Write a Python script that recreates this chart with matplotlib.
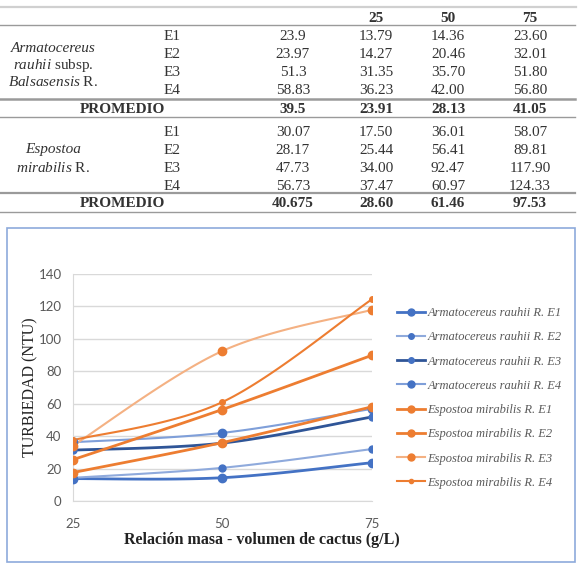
import numpy as np
import matplotlib.pyplot as plt
from matplotlib.lines import Line2D
from matplotlib.patches import Rectangle

# table / chart data
dosis = [25, 50, 75]
ensayos = ["E1", "E2", "E3", "E4"]
arm_col0 = ["23.9", "23.97", "51.3", "58.83"]
arm_vals = [[13.79, 14.36, 23.60],
            [14.27, 20.46, 32.01],
            [31.35, 35.70, 51.80],
            [36.23, 42.00, 56.80]]
arm_prom = ["39.5", "23.91", "28.13", "41.05"]
esp_col0 = ["30.07", "28.17", "47.73", "56.73"]
esp_vals = [[17.50, 36.01, 58.07],
            [25.44, 56.41, 89.81],
            [34.00, 92.47, 117.90],
            [37.47, 60.97, 124.33]]
esp_prom = ["40.675", "28.60", "61.46", "97.53"]

plt.rcParams["mathtext.fontset"] = "custom"
plt.rcParams["mathtext.rm"] = "Liberation Serif"
plt.rcParams["mathtext.it"] = "Liberation Serif:italic"

W, H = 581, 571
fig = plt.figure(figsize=(W / 100, H / 100), dpi=100)

def fx(x):
    return x / W

def fy(y):
    return 1 - y / H

serif = "Liberation Serif"
tcol = "#333333"

def hline(y, x0=0, x1=575, color="#9a9a9a", lw=1.0):
    fig.add_artist(Line2D([fx(x0), fx(x1)], [fy(y), fy(y)], color=color, lw=lw))

def txt(x, y, s, **kw):
    kw.setdefault("ha", "center")
    kw.setdefault("va", "center_baseline")
    kw.setdefault("fontsize", 11)
    kw.setdefault("family", serif)
    kw.setdefault("color", tcol)
    fig.text(fx(x), fy(y), s, **kw)

col_x = [293, 376, 448, 530]

# ---- table ----
hline(7, 0, 576, color="#d0d0d0", lw=1.6)
for c, v in zip(col_x[1:], dosis):
    txt(c, 17, str(v), weight="bold")
hline(25)

rows1 = [35, 53, 71, 89]
for i, y in enumerate(rows1):
    txt(172, y, ensayos[i])
    txt(col_x[0], y, arm_col0[i])
    for j in range(3):
        txt(col_x[j + 1], y, "%.2f" % arm_vals[i][j])
txt(53, 47, "Armatocereus", style="italic")
txt(53, 63, r"$\it{rauhii}$ subsp.")
txt(53, 80, r"$\it{Balsasensis}$ R.")

hline(99, lw=1.8)
txt(122, 108, "PROMEDIO", weight="bold")
for c, v in zip(col_x, arm_prom):
    txt(c, 108, v, weight="bold")
hline(117)

rows2 = [131, 149, 167, 185]
for i, y in enumerate(rows2):
    txt(172, y, ensayos[i])
    txt(col_x[0], y, esp_col0[i])
    for j in range(3):
        txt(col_x[j + 1], y, "%.2f" % esp_vals[i][j])
txt(53, 148, "Espostoa", style="italic")
txt(53, 166, r"$\it{mirabilis}$ R.")

hline(193, lw=1.6)
txt(122, 202, "PROMEDIO", weight="bold")
for c, v in zip(col_x, esp_prom):
    txt(c, 202, v, weight="bold")
hline(212)

# ---- chart frame ----
fig.add_artist(Rectangle((fx(7), fy(562)), fx(575 - 7), (562 - 228) / H,
                         fill=False, edgecolor="#8eaadb", lw=1.2))

ax = fig.add_axes([fx(72.7), fy(501), fx(371.7 - 72.7), (501 - 274) / H])

def smooth(x, y, n=40):
    # Excel-like smoothed line (Bezier through the points)
    x = np.asarray(x, float)
    y = np.asarray(y, float)
    px = np.concatenate([[x[0]], x, [x[-1]]])
    py = np.concatenate([[y[0]], y, [y[-1]]])
    xs, ys = [], []
    t = np.linspace(0, 1, n)
    for i in range(1, len(x)):
        p0 = np.array([px[i], py[i]])
        p3 = np.array([px[i + 1], py[i + 1]])
        c1 = p0 + (np.array([px[i + 1], py[i + 1]]) - np.array([px[i - 1], py[i - 1]])) / 6
        c2 = p3 - (np.array([px[i + 2], py[i + 2]]) - np.array([px[i], py[i]])) / 6
        b = ((1 - t) ** 3)[:, None] * p0 + (3 * (1 - t) ** 2 * t)[:, None] * c1 \
            + (3 * (1 - t) * t ** 2)[:, None] * c2 + (t ** 3)[:, None] * p3
        xs.extend(b[:, 0])
        ys.extend(b[:, 1])
    return xs, ys

blue = "#4472c4"
orange = "#ed7d31"
styles = [
    ("Armatocereus rauhii R. E1", blue, blue, 2.0, 6),
    ("Armatocereus rauhii R. E2", "#8faadc", blue, 1.5, 5),
    ("Armatocereus rauhii R. E3", "#2f5597", blue, 2.0, 5),
    ("Armatocereus rauhii R. E4", "#7f9fd9", blue, 1.5, 6),
    ("Espostoa mirabilis R. E1", orange, orange, 2.0, 6),
    ("Espostoa mirabilis R. E2", orange, orange, 2.0, 6),
    ("Espostoa mirabilis R. E3", "#f4b183", orange, 1.5, 6),
    ("Espostoa mirabilis R. E4", orange, orange, 1.5, 4),
]

series = arm_vals + esp_vals
handles = []
for vals, (lab, lc, mc, lw, ms) in zip(series, styles):
    sx, sy = smooth(dosis, vals)
    ax.plot(sx, sy, color=lc, lw=lw, zorder=3)
    ax.plot(dosis, vals, "o", color=mc, ms=ms, zorder=4)
    handles.append(Line2D([], [], color=lc, lw=lw, marker="o", ms=ms - 1,
                          markerfacecolor=mc, markeredgecolor=mc, label=lab))

ax.set_xlim(25, 75)
ax.set_ylim(0, 140)
ax.set_xticks(dosis)
ax.set_yticks(range(0, 141, 20))
ax.grid(axis="y", color="#d9d9d9", lw=1)
ax.set_axisbelow(True)
for s in ["top", "right"]:
    ax.spines[s].set_visible(False)
ax.spines["left"].set_color("#d9d9d9")
ax.spines["bottom"].set_color("#d9d9d9")
ax.tick_params(length=0, labelsize=9.5, labelcolor="#595959", pad=8)
for lbl in ax.get_xticklabels() + ax.get_yticklabels():
    lbl.set_family("Lato")
ax.tick_params(axis="x", pad=12)

ax.set_ylabel("TURBIEDAD (NTU)", family=serif, fontsize=11.5, color="#222222", labelpad=0)
fig.text(fx(262), fy(540), "Relación masa - volumen de cactus (g/L)", ha="center",
         va="center", family=serif, weight="bold", fontsize=11.5, color="#222222")

fig.legend(handles=handles, loc="upper left", bbox_to_anchor=(fx(397), fy(307)),
           frameon=False, prop={"family": serif, "style": "italic", "size": 9},
           labelcolor="#595959", handlelength=2.2, handletextpad=0.25,
           labelspacing=0.98, borderaxespad=0, borderpad=0)

fig.savefig("out.png", dpi=100)
